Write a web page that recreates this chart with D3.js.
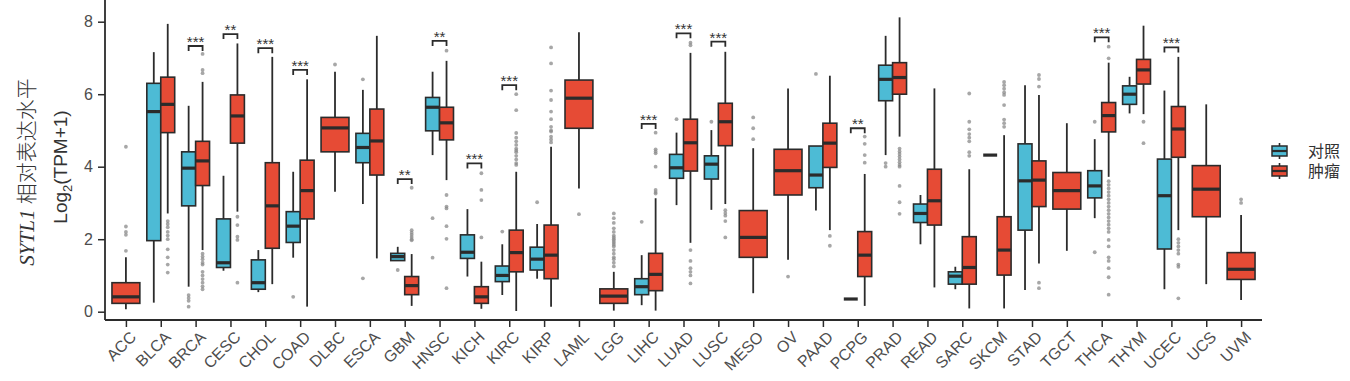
<!DOCTYPE html>
<html>
<head>
<meta charset="utf-8">
<script src="https://cdn.jsdelivr.net/npm/d3@7"></script>
<style>
  body { margin: 0; background: #fff; }
  text { font-family: "Liberation Sans", Arial, sans-serif; }
</style>
</head>
<body>
<div id="chart"></div>
<script>
var cancers = ['ACC','BLCA','BRCA','CESC','CHOL','COAD','DLBC','ESCA','GBM','HNSC','KICH','KIRC','KIRP','LAML','LGG','LIHC','LUAD','LUSC','MESO','OV','PAAD','PCPG','PRAD','READ','SARC','SKCM','STAD','TGCT','THCA','THYM','UCEC','UCS','UVM'];

// [lower whisker, q1, median, q3, upper whisker]; null = no normal samples
var normalBox = [
  null, [0.25,1.96,5.52,6.30,7.16], [0.69,2.92,3.96,4.41,5.68], [1.13,1.22,1.35,2.56,3.75],
  [0.54,0.62,0.80,1.43,1.70], [1.49,1.91,2.36,2.76,3.86], null, [2.97,4.11,4.53,4.92,6.12],
  [1.41,1.41,1.52,1.61,1.79], [4.32,4.99,5.64,5.91,6.62], [0.97,1.47,1.64,2.12,2.83], [0.46,0.83,1.00,1.26,1.86],
  [0.91,1.15,1.45,1.78,2.42], null, null, [0.18,0.47,0.69,0.91,1.56],
  [2.94,3.68,3.97,4.34,4.94], [2.81,3.66,4.07,4.30,5.01], null, null,
  [2.79,3.42,3.77,4.57,4.57], [0.35,0.35,0.35,0.35,0.35], [4.32,5.82,6.41,6.80,7.61], [1.86,2.46,2.71,2.97,3.22],
  [0.62,0.76,0.98,1.10,1.24], [4.32,4.32,4.32,4.32,4.32], [0.60,2.25,3.61,4.63,6.25], null,
  [2.58,3.14,3.47,3.89,4.76], [5.47,5.72,6.00,6.23,6.48], [0.62,1.73,3.20,4.21,6.10], null, null
];

var tumorBox = [
  [0.07,0.23,0.41,0.80,1.50], [2.71,4.94,5.72,6.47,7.94], [1.70,3.48,4.16,4.70,6.34], [2.76,4.65,5.40,5.98,7.40],
  [0.76,1.75,2.92,4.11,7.03], [0.14,2.56,3.34,4.18,6.41], [3.31,4.41,5.07,5.36,6.62], [1.47,3.77,4.71,5.59,7.61],
  [0.16,0.47,0.72,0.97,1.59], [3.63,4.74,5.21,5.64,6.92], [0.08,0.23,0.41,0.69,1.38], [0.02,1.10,1.63,2.25,3.86],
  [0.14,0.91,1.56,2.39,4.55], [3.40,5.06,5.89,6.39,7.71], [0.03,0.23,0.43,0.63,1.10], [0.03,0.58,1.03,1.61,3.13],
  [1.90,3.88,4.66,5.31,7.14], [2.97,4.58,5.24,5.75,7.17], [0.51,1.50,2.05,2.79,4.51], [1.43,3.22,3.89,4.48,6.16],
  [2.25,3.98,4.65,5.20,6.51], [0.16,0.97,1.56,2.21,3.80], [4.83,6.00,6.46,6.87,8.12], [0.67,2.39,3.06,3.93,6.16],
  [0.09,0.76,1.22,2.07,3.93], [0.09,1.01,1.70,2.62,4.87], [1.33,2.90,3.63,4.16,5.98], [1.68,2.83,3.34,3.84,5.20],
  [3.72,4.96,5.41,5.77,6.87], [5.45,6.28,6.67,6.96,7.89], [2.25,4.26,5.04,5.66,7.03], [0.76,2.62,3.38,4.03,5.72],
  [0.32,0.89,1.17,1.63,2.67]
];

var normalOut = [
  [], [], [0.46,0.38,0.30,0.14], [], [], [0.41], [], [6.41,0.92],
  [1.15], [2.58,1.49], [], [2.21], [3.02], [], [], [2.48],
  [5.31], [5.24], [], [], [6.56], [], [4.10,4.00], [],
  [], [], [], [], [5.24,1.64], [], [], [], []
];

var tumorOut = [
  [4.55,2.35,2.20,2.12,1.68],
  [2.50,2.42,2.33,2.20,2.10,2.00,1.72,1.50,1.30,1.08],
  [7.11,6.67,6.58,1.60,1.52,1.45,1.35,1.30,1.10,1.00,0.90,0.80,0.70,0.62],
  [2.62,2.39,2.07,1.98,0.80],
  [], [], [6.82], [],
  [3.42,2.25,2.18,2.12,2.06,2.00,1.97],
  [7.20,3.22,2.90,2.85,2.36,2.01,0.65],
  [3.82,3.36,3.08,2.05],
  [6.00,5.56,4.93,4.80,4.70,4.60,4.50,4.45,4.40,4.30,4.20,4.10,4.05],
  [7.29,6.85,6.10,5.84,5.52,5.31,5.10,5.00,4.97,4.83,4.75,4.67],
  [2.69],
  [2.71,2.58,2.45,2.30,2.20,2.10,2.05,2.00,1.95,1.90,1.85,1.80,1.70,1.60,1.50,1.45,1.35,1.25],
  [4.94,4.48,4.42,4.37,4.00,3.36,3.30,3.26],
  [7.42,7.35,1.70,1.40,1.20,1.10,1.00,0.78],
  [2.80,2.72,2.65,2.50,2.05],
  [5.36,5.06,4.76],
  [0.97],
  [2.09,1.82],
  [4.83,4.63,4.32,4.11],
  [4.50,4.42,4.35,4.28,4.20,4.12,4.05,4.00,3.47,3.02,2.70],
  [],
  [6.02,5.24,5.03,4.90,4.80,4.70,4.40,4.30],
  [6.34,6.25,6.15,6.05,5.98,5.70,5.30,5.20,5.10],
  [6.53,6.42,6.21,0.80,0.65],
  [],
  [7.31,6.99,3.60,3.50,3.40,3.30,3.20,3.10,3.00,2.90,2.80,2.70,2.60,2.50,2.40,2.30,2.20,1.98,1.80,1.50,1.40,1.20,0.95,0.47],
  [5.24,4.65],
  [2.00,1.90,1.80,1.70,1.60,1.30,1.24,0.37],
  [],
  [3.10,3.00]
];

// significance marks and the height of their brackets
var sigLabel = ['','','***','**','***','***','','','**','**','***','***','','','','***','***','***','','','','**','','','','','','','***','','***','',''];
var sigY     = [0,0,7.33,7.66,7.27,6.67,0,0,3.66,7.47,4.09,6.25,0,0,0,5.18,7.68,7.45,0,0,0,5.06,0,0,0,0,0,0,7.57,0,7.29,0,0];

var groups = ['对照', '肿瘤'];
var groupColors = ['#4DBBD5', '#E64B35'];
var yTicks = [0, 2, 4, 6, 8];

var W = 1350, H = 381;
var plot = { left: 105, right: 1262, top: 0, bottom: 320 };
var ink = '#2b2b2b';

var svg = d3.select('#chart').append('svg')
  .attr('width', W)
  .attr('height', H);

var x = d3.scalePoint()
  .domain(cancers)
  .range([plot.left, plot.right])
  .padding(0.6);

var y = d3.scaleLinear()
  .domain([0, 8])
  .range([311.7, 21.7]);

var step = x.step();
var halfW = step * 0.2;   // half width of one dodged box

var root = svg.append('g');

// build one record per box
var boxes = [];
cancers.forEach(function(c, i) {
  if (normalBox[i] !== null) {
    boxes.push({ c: c, g: 0, s: normalBox[i], out: normalOut[i], cx: x(c) - halfW, hw: halfW });
    boxes.push({ c: c, g: 1, s: tumorBox[i], out: tumorOut[i], cx: x(c) + halfW, hw: halfW });
  } else {
    boxes.push({ c: c, g: 1, s: tumorBox[i], out: tumorOut[i], cx: x(c), hw: halfW * 2 });
  }
});

// outliers
var outPts = [];
boxes.forEach(function(b) {
  b.out.forEach(function(v) { outPts.push({ cx: b.cx, v: v }); });
});
root.append('g').selectAll('circle')
  .data(outPts)
  .enter().append('circle')
  .attr('cx', function(d) { return d.cx; })
  .attr('cy', function(d) { return y(d.v); })
  .attr('r', 1.9)
  .attr('fill', '#8a8a8a')
  .attr('opacity', 0.75);

var bg = root.append('g').selectAll('g')
  .data(boxes)
  .enter().append('g');

// whiskers
bg.append('line')
  .attr('x1', function(d) { return d.cx; })
  .attr('x2', function(d) { return d.cx; })
  .attr('y1', function(d) { return y(d.s[4]); })
  .attr('y2', function(d) { return y(d.s[3]); })
  .attr('stroke', ink).attr('stroke-width', 1.8);
bg.append('line')
  .attr('x1', function(d) { return d.cx; })
  .attr('x2', function(d) { return d.cx; })
  .attr('y1', function(d) { return y(d.s[1]); })
  .attr('y2', function(d) { return y(d.s[0]); })
  .attr('stroke', ink).attr('stroke-width', 1.8);

// boxes
bg.append('rect')
  .attr('x', function(d) { return d.cx - d.hw; })
  .attr('width', function(d) { return d.hw * 2; })
  .attr('y', function(d) { return y(d.s[3]); })
  .attr('height', function(d) { return Math.max(0, y(d.s[1]) - y(d.s[3])); })
  .attr('fill', function(d) { return groupColors[d.g]; })
  .attr('stroke', ink)
  .attr('stroke-width', 1.6);

// medians
bg.append('line')
  .attr('x1', function(d) { return d.cx - d.hw; })
  .attr('x2', function(d) { return d.cx + d.hw; })
  .attr('y1', function(d) { return y(d.s[2]); })
  .attr('y2', function(d) { return y(d.s[2]); })
  .attr('stroke', ink).attr('stroke-width', 3.2);

// significance brackets
var sig = cancers.map(function(c, i) { return { c: c, lab: sigLabel[i], v: sigY[i] }; })
  .filter(function(d) { return d.lab !== ''; });
var sg = root.append('g').selectAll('g')
  .data(sig)
  .enter().append('g');
sg.append('path')
  .attr('d', function(d) {
    var x1 = x(d.c) - halfW, x2 = x(d.c) + halfW, yy = y(d.v);
    return 'M' + x1 + ',' + (yy + 5) + 'V' + yy + 'H' + x2 + 'V' + (yy + 5);
  })
  .attr('fill', 'none')
  .attr('stroke', ink)
  .attr('stroke-width', 1.8);
sg.append('text')
  .attr('x', function(d) { return x(d.c); })
  .attr('y', function(d) { return y(d.v) + 1; })
  .attr('text-anchor', 'middle')
  .attr('font-size', 15)
  .attr('fill', '#333')
  .text(function(d) { return d.lab; });

// axes
var yAxis = root.append('g')
  .attr('transform', 'translate(' + plot.left + ',0)')
  .call(d3.axisLeft(y).tickValues(yTicks).tickSize(7).tickPadding(5));
yAxis.select('.domain').remove();
yAxis.selectAll('line').attr('stroke', ink).attr('stroke-width', 1.5);
yAxis.selectAll('text').attr('font-size', 16).attr('fill', '#4d4d4d')
  .style('font-family', '"Liberation Sans", Arial, sans-serif');

var xAxis = root.append('g')
  .attr('transform', 'translate(0,' + plot.bottom + ')')
  .call(d3.axisBottom(x).tickSize(7).tickFormat(''));
xAxis.select('.domain').remove();
xAxis.selectAll('line').attr('stroke', ink).attr('stroke-width', 1.5);

root.append('line')
  .attr('x1', plot.left).attr('x2', plot.left)
  .attr('y1', plot.top).attr('y2', plot.bottom)
  .attr('stroke', ink).attr('stroke-width', 1.8);
root.append('line')
  .attr('x1', plot.left).attr('x2', plot.right)
  .attr('y1', plot.bottom).attr('y2', plot.bottom)
  .attr('stroke', ink).attr('stroke-width', 1.8);

root.append('g').selectAll('text')
  .data(cancers)
  .enter().append('text')
  .attr('transform', function(d) { return 'translate(' + (x(d) + 3) + ',' + (plot.bottom + 10) + ') rotate(-45)'; })
  .attr('text-anchor', 'end')
  .attr('dy', '0.72em')
  .attr('font-size', 16)
  .attr('fill', '#4d4d4d')
  .text(function(d) { return d; });

// y titles
var t1 = svg.append('text')
  .attr('transform', 'translate(34,172) rotate(-90)')
  .attr('text-anchor', 'middle')
  .attr('font-size', 21)
  .attr('fill', '#333');
t1.append('tspan')
  .style('font-family', '"Liberation Serif", "Times New Roman", serif')
  .attr('font-style', 'italic')
  .text('SYTL1 ');
t1.append('tspan')
  .style('font-family', '"Noto Sans CJK SC", sans-serif')
  .attr('font-weight', 300)
  .text('相对表达水平');

var t2 = svg.append('text')
  .attr('transform', 'translate(67,167) rotate(-90)')
  .attr('text-anchor', 'middle')
  .attr('font-size', 19)
  .attr('fill', '#333');
t2.append('tspan').text('Log');
t2.append('tspan').attr('font-size', 13).attr('dy', 5).text('2');
t2.append('tspan').attr('dy', -5).text('(TPM+1)');

// legend
var lg = svg.append('g').attr('transform', 'translate(1272,143)');
var li = lg.selectAll('g')
  .data(groups)
  .enter().append('g')
  .attr('transform', function(d, i) { return 'translate(0,' + (i * 20) + ')'; });
li.append('line')
  .attr('x1', 7.5).attr('x2', 7.5).attr('y1', 0).attr('y2', 16)
  .attr('stroke', ink).attr('stroke-width', 1.6);
li.append('rect')
  .attr('x', 0).attr('y', 3).attr('width', 15).attr('height', 10)
  .attr('fill', function(d, i) { return groupColors[i]; })
  .attr('stroke', ink).attr('stroke-width', 1.5);
li.append('line')
  .attr('x1', 0).attr('x2', 15).attr('y1', 8).attr('y2', 8)
  .attr('stroke', ink).attr('stroke-width', 2.2);
li.append('text')
  .attr('x', 36).attr('y', 14)
  .attr('font-size', 16)
  .attr('fill', '#333')
  .style('font-family', '"Liberation Sans", "Noto Sans CJK SC", sans-serif')
  .text(function(d) { return d; });
</script>
</body>
</html>
